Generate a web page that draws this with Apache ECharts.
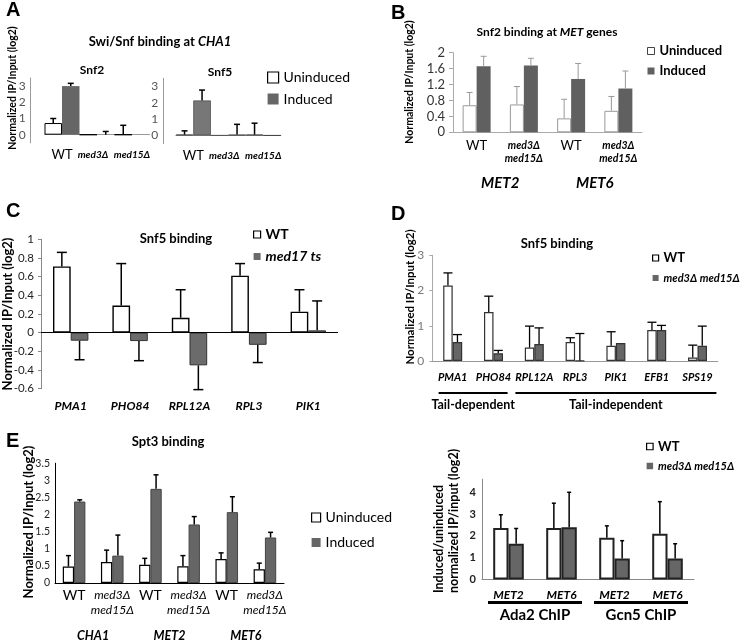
<!DOCTYPE html>
<html><head><meta charset="utf-8">
<script src="https://cdn.jsdelivr.net/npm/echarts@6/dist/echarts.min.js"></script>
<style>html,body{margin:0;padding:0;background:#fff}#c{width:745px;height:642px}</style>
</head><body><div id="c"></div>
<script>
const FONT = 'Lato, "Open Sans", sans-serif';
const GRAY = '#666666';

// ---------- Panel A : Swi/Snf binding at CHA1 ----------
const aStrains = ['WT', 'med3Δ', 'med15Δ'];
const aYTicks = [0, 1, 2, 3];
const aSnf2Un = [0.72, 0, 0];
const aSnf2UnErr = [1.0, null, 0.58];
const aSnf2In = [3.0, 0, 0];
const aSnf2InErr = [3.17, 0.2, null];
const aSnf5Un = [0.05, 0, 0.05];
const aSnf5UnErr = [0.28, null, 0.75];
const aSnf5In = [2.14, 0.05, 0];
const aSnf5InErr = [2.78, 0.68, null];

// ---------- Panel B : Snf2 binding at MET genes ----------
const bStrains = ['WT', 'med3Δ med15Δ', 'WT', 'med3Δ med15Δ'];
const bGenes = ['MET2', 'MET6'];
const bUn = [0.68, 0.70, 0.35, 0.54];
const bUnErr = [1.0, 1.15, 0.83, 0.90];
const bIn = [1.66, 1.68, 1.34, 1.10];
const bInErr = [1.91, 1.86, 1.73, 1.54];

// ---------- Panel C : Snf5 binding, med17 ts ----------
const cGenes = ['PMA1', 'PHO84', 'RPL12A', 'RPL3', 'PIK1'];
const cWT = [0.71, 0.29, 0.16, 0.61, 0.225];
const cWTErr = [0.86, 0.74, 0.46, 0.74, 0.46];
const cMed = [-0.086, -0.09, -0.35, -0.13, 0.025];
const cMedErr = [-0.29, -0.30, -0.61, -0.32, 0.34];

// ---------- Panel D : Snf5 binding, med3Δ med15Δ ----------
const dGenes = ['PMA1', 'PHO84', 'RPL12A', 'RPL3', 'PIK1', 'EFB1', 'SPS19'];
const dGroups = ['Tail-dependent', 'Tail-independent'];
const dWT = [2.14, 1.39, 0.38, 0.54, 0.43, 0.88, 0.10];
const dWTErr = [2.50, 1.84, 0.99, 0.66, 0.83, 1.10, 0.45];
const dMed = [0.54, 0.22, 0.48, 0.01, 0.51, 0.88, 0.43];
const dMedErr = [0.75, 0.30, 0.94, 0.78, null, 1.01, 0.99];

// ---------- Panel E : Spt3 binding ----------
const eStrains = ['WT', 'med3Δ med15Δ', 'WT', 'med3Δ med15Δ', 'WT', 'med3Δ med15Δ'];
const eGenes = ['CHA1', 'MET2', 'MET6'];
const eUn = [0.48, 0.61, 0.53, 0.49, 0.70, 0.40];
const eUnErr = [0.80, 0.96, 0.72, 0.80, 0.88, 0.58];
const eIn = [2.38, 0.80, 2.75, 1.71, 2.07, 1.33];
const eInErr = [2.43, 1.40, 3.16, 1.94, 2.52, 1.48];

// ---------- Panel F : Ada2 / Gcn5 ChIP ----------
const fGenes = ['MET2', 'MET6', 'MET2', 'MET6'];
const fGroups = ['Ada2 ChIP', 'Gcn5 ChIP'];
const fWT = [2.36, 2.36, 1.92, 2.10];
const fWTErr = [2.97, 3.50, 2.46, 3.57];
const fMed = [1.64, 2.40, 0.96, 0.96];
const fMedErr = [2.34, 4.0, 1.78, 1.64];

// ---------- helpers ----------
function uniq(arr) { return arr.map((s, i) => i + '|' + s); }
function lab(v) { return String(v).split('|')[1]; }

function bars(name, data, xi, yi, bw, itemStyle, extra) {
  return Object.assign({
    type: 'bar', name, data, xAxisIndex: xi, yAxisIndex: yi,
    barWidth: bw, barGap: '0%', itemStyle, silent: true, z: 2
  }, extra || {});
}
function errs(vals, es, xi, yi, dx, cap, color, lw) {
  const data = [];
  vals.forEach((v, i) => { if (es[i] != null) data.push([i, v, es[i]]); });
  return {
    type: 'custom', name: 'err', xAxisIndex: xi, yAxisIndex: yi, data,
    encode: { x: 0, y: [1, 2] }, silent: true, z: 3,
    renderItem(params, api) {
      const c = api.coord([api.value(0), api.value(1)]);
      const e = api.coord([api.value(0), api.value(2)]);
      const x = c[0] + dx;
      const st = { stroke: color, lineWidth: lw };
      return { type: 'group', children: [
        { type: 'line', shape: { x1: x, y1: c[1], x2: x, y2: e[1] }, style: st },
        { type: 'line', shape: { x1: x - cap, y1: e[1], x2: x + cap, y2: e[1] }, style: st }
      ] };
    }
  };
}
function txt(text, x, y, font, opts) {
  return Object.assign({
    type: 'text', x, y, silent: true,
    style: Object.assign({ text, font, fill: '#000', align: 'center', verticalAlign: 'middle' }, (opts && opts.style) || {})
  }, (opts && opts.el) || {});
}
const noSplit = { show: false };

const grids = [
  { left: 44.5, top: 78, width: 105, height: 64.8 },      // 0 A Snf2
  { left: 175.8, top: 78.3, width: 105, height: 65.3 },   // 1 A Snf5
  { left: 453, top: 52.7, width: 189, height: 79.6 },     // 2 B
  { left: 41, top: 239.3, width: 297, height: 149.4 },    // 3 C
  { left: 432.3, top: 255.3, width: 285.6, height: 105.7 },// 4 D
  { left: 55, top: 463.2, width: 229, height: 121.1 },    // 5 E
  { left: 482, top: 479.2, width: 212, height: 100.3 }    // 6 F
];

const aLabel = {
  margin: 5, interval: 0,
  formatter: v => v === 'WT' ? '{wt|WT}' : (v === 'med3Δ' ? '{m3|' + v + '}' : '{m|' + v + '}'),
  rich: {
    wt: { fontFamily: FONT, fontSize: 13, color: '#000', lineHeight: 14 },
    m3: { fontFamily: FONT, fontSize: 10, fontStyle: 'italic', fontWeight: 'bold', color: '#000', lineHeight: 14, padding: [0, 8, 0, 0] },
    m: { fontFamily: FONT, fontSize: 10, fontStyle: 'italic', fontWeight: 'bold', color: '#000', lineHeight: 14 }
  }
};

const xAxes = [
  // 0 A Snf2
  { type: 'category', gridIndex: 0, data: aStrains, axisLine: { lineStyle: { color: '#999' } }, axisTick: { show: false }, axisLabel: aLabel },
  // 1 A Snf5
  { type: 'category', gridIndex: 1, data: aStrains, axisLine: { lineStyle: { color: '#999' } }, axisTick: { show: false }, axisLabel: aLabel },
  // 2 B strains
  { type: 'category', gridIndex: 2, data: uniq(bStrains), axisLine: { lineStyle: { color: '#aaa' } }, axisTick: { show: false },
    axisLabel: { margin: 7, interval: 0,
      formatter: v => lab(v) === 'WT' ? '{wt|WT}' : '{m|med3Δ}\n{m|med15Δ}',
      rich: { wt: { fontFamily: FONT, fontSize: 13, color: '#000', lineHeight: 13 },
              m: { fontFamily: FONT, fontSize: 10.5, fontStyle: 'italic', fontWeight: 'bold', color: '#000', lineHeight: 13 } } } },
  // 3 B genes
  { type: 'category', gridIndex: 2, data: bGenes, position: 'bottom', offset: 35,
    axisLine: { show: false, onZero: false }, axisTick: { show: false },
    axisLabel: { interval: 0, fontFamily: FONT, fontSize: 15, fontWeight: 'bold', fontStyle: 'italic', color: '#000' } },
  // 4 C genes
  { type: 'category', gridIndex: 3, data: cGenes, axisLine: { show: false, onZero: false }, axisTick: { show: false },
    axisLabel: { margin: 11, interval: 0, fontFamily: FONT, fontSize: 12, fontWeight: 'bold', fontStyle: 'italic', color: '#000' } },
  // 5 D genes
  { type: 'category', gridIndex: 4, data: dGenes, axisLine: { lineStyle: { color: '#999' } }, axisTick: { show: false },
    axisLabel: { margin: 11, interval: 0, fontFamily: FONT, fontSize: 11, fontWeight: 'bold', fontStyle: 'italic', color: '#000' } },
  // 6 D group underline axis (category-unit scale)
  { type: 'value', gridIndex: 4, min: 0, max: dGenes.length, interval: 0.5, position: 'bottom',
    axisLine: { show: false, onZero: false }, axisTick: { show: false }, splitLine: noSplit,
    axisLabel: { margin: 31, showMinLabel: true, showMaxLabel: true,
      formatter: v => v === 1 ? '{u1|}\n{t|' + dGroups[0] + '}' : (v === 4.5 ? '{u2|}\n{t|' + dGroups[1] + '}' : ''),
      rich: { u1: { width: 69, height: 2, lineHeight: 2, backgroundColor: '#000' },
              u2: { width: 201, height: 2, lineHeight: 2, backgroundColor: '#000' },
              t: { fontFamily: FONT, fontSize: 12.5, fontWeight: 'bold', color: '#000', lineHeight: 16, padding: [6, 0, 0, 0] } } } },
  // 7 E strains
  { type: 'category', gridIndex: 5, data: uniq(eStrains), axisLine: { lineStyle: { color: '#000' } }, axisTick: { show: false },
    axisLabel: { margin: 5, interval: 0,
      formatter: v => lab(v) === 'WT' ? '{wt|WT}' : '{m|med3Δ}\n{m|med15Δ}',
      rich: { wt: { fontFamily: FONT, fontSize: 14, color: '#000', lineHeight: 15 },
              m: { fontFamily: FONT, fontSize: 12, fontStyle: 'italic', color: '#000', lineHeight: 15 } } } },
  // 8 E genes
  { type: 'category', gridIndex: 5, data: eGenes, position: 'bottom', offset: 38,
    axisLine: { show: false, onZero: false }, axisTick: { show: false },
    axisLabel: { interval: 0, fontFamily: FONT, fontSize: 12.5, fontWeight: 'bold', fontStyle: 'italic', color: '#000' } },
  // 9 F genes
  { type: 'category', gridIndex: 6, data: uniq(fGenes), axisLine: { lineStyle: { color: '#888' } }, axisTick: { show: false },
    axisLabel: { margin: 10, interval: 0, formatter: v => lab(v), fontFamily: FONT, fontSize: 12, fontWeight: 'bold', fontStyle: 'italic', color: '#000' } },
  // 10 F groups
  { type: 'category', gridIndex: 6, data: fGroups, position: 'bottom', offset: 13.5,
    axisLine: { show: false, onZero: false }, axisTick: { show: false },
    axisLabel: { interval: 0, margin: 8, formatter: v => '{u|}\n{t|' + v + '}',
      rich: { u: { width: 94, height: 3, lineHeight: 3, backgroundColor: '#000' },
              t: { fontFamily: FONT, fontSize: 15, fontWeight: 'bold', color: '#000', lineHeight: 18, padding: [5, 0, 0, 0] } } } }
];

const yAxes = [
  { type: 'value', gridIndex: 0, min: -0.5, max: 3.5, interval: 0.5, offset: 13.8, splitLine: noSplit,
    axisLine: { show: true, onZero: false, lineStyle: { color: '#999' } }, axisTick: { show: false },
    axisLabel: { margin: 5, fontFamily: FONT, fontSize: 12, color: '#555', formatter: v => aYTicks.includes(v) ? String(v) : '' } },
  { type: 'value', gridIndex: 1, min: -0.5, max: 3.5, interval: 0.5, offset: 12.5, splitLine: noSplit,
    axisLine: { show: true, onZero: false, lineStyle: { color: '#999' } }, axisTick: { show: false },
    axisLabel: { margin: 5, fontFamily: FONT, fontSize: 12, color: '#555', formatter: v => aYTicks.includes(v) ? String(v) : '' } },
  { type: 'value', gridIndex: 2, min: 0, max: 2, interval: 0.4, splitLine: noSplit,
    axisLine: { show: true, lineStyle: { color: '#aaa' } }, axisTick: { show: true, length: 4, lineStyle: { color: '#aaa' } },
    axisLabel: { margin: 8, fontFamily: FONT, fontSize: 13, color: '#333' } },
  { type: 'value', gridIndex: 3, min: -0.6, max: 1, interval: 0.2, splitLine: noSplit,
    axisLine: { show: true, onZero: false, lineStyle: { color: '#888' } }, axisTick: { show: true, length: 3, lineStyle: { color: '#888' } },
    axisLabel: { margin: 7, fontFamily: FONT, fontSize: 11.5, color: '#222' } },
  { type: 'value', gridIndex: 4, min: 0, max: 3, interval: 1, splitLine: noSplit,
    axisLine: { show: true, lineStyle: { color: '#aaa' } }, axisTick: { show: true, length: 3, lineStyle: { color: '#aaa' } },
    axisLabel: { margin: 8, fontFamily: FONT, fontSize: 12, color: '#777' } },
  { type: 'value', gridIndex: 5, min: 0, max: 3.5, interval: 0.5, splitLine: noSplit,
    axisLine: { show: true, lineStyle: { color: '#000' } }, axisTick: { show: false },
    axisLabel: { margin: 5, fontFamily: FONT, fontSize: 10.5, color: '#222' } },
  { type: 'value', gridIndex: 6, min: 0, max: 4.6, interval: 1, splitLine: noSplit,
    axisLine: { show: true, lineStyle: { color: '#888' } }, axisTick: { show: false },
    axisLabel: { margin: 6, showMaxLabel: false, fontFamily: FONT, fontSize: 11, fontWeight: 'bold', color: '#222' } }
];

const sA_U = { color: '#fff', borderColor: '#000', borderWidth: 1 };
const sA_I = { color: GRAY };
const series = [
  // A Snf2
  bars('Uninduced', aSnf2Un, 0, 0, 17.5, sA_U),
  bars('Induced', aSnf2In, 0, 0, 17.5, sA_I),
  errs(aSnf2Un, aSnf2UnErr, 0, 0, -8.75, 3, '#000', 1.5),
  errs(aSnf2In, aSnf2InErr, 0, 0, 8.75, 3, '#000', 1.5),
  // A Snf5
  bars('Uninduced', aSnf5Un, 1, 1, 17.5, { color: '#fff', borderColor: '#555', borderWidth: 1 }),
  bars('Induced', aSnf5In, 1, 1, 17.5, { color: '#777', borderColor: '#333', borderWidth: 0.6 }),
  errs(aSnf5Un, aSnf5UnErr, 1, 1, -8.75, 3, '#000', 1.5),
  errs(aSnf5In, aSnf5InErr, 1, 1, 8.75, 3, '#000', 1.5),
  // B
  bars('Uninduced', bUn, 2, 2, 14, { color: '#fff', borderColor: '#999', borderWidth: 1 }),
  bars('Induced', bIn, 2, 2, 14, { color: '#606060' }),
  errs(bUn, bUnErr, 2, 2, -7, 3, '#999', 1),
  errs(bIn, bInErr, 2, 2, 7, 3, '#999', 1),
  // C
  bars('WT', cWT, 4, 3, 17.7, { color: '#fff', borderColor: '#000', borderWidth: 1.4 }, {
    markLine: { silent: true, symbol: ['none', 'none'], label: { show: false },
      lineStyle: { color: '#000', width: 1, type: 'solid' }, data: [{ yAxis: 0 }] } }),
  bars('med17 ts', cMed, 4, 3, 17.7, { color: '#6b6b6b', borderColor: '#333', borderWidth: 1 }),
  errs(cWT, cWTErr, 4, 3, -8.85, 5, '#000', 1.5),
  errs(cMed, cMedErr, 4, 3, 8.85, 5, '#000', 1.5),
  // D
  bars('WT', dWT, 5, 4, 9.5, { color: '#fff', borderColor: '#333', borderWidth: 1.2 }),
  bars('med3Δ med15Δ', dMed, 5, 4, 9.5, { color: GRAY, borderColor: '#333', borderWidth: 1.2 }),
  errs(dWT, dWTErr, 5, 4, -4.75, 4.5, '#000', 1.3),
  errs(dMed, dMedErr, 5, 4, 4.75, 4.5, '#000', 1.3),
  // E
  bars('Uninduced', eUn, 7, 5, 11.3, { color: '#fff', borderColor: '#000', borderWidth: 1.2 }),
  bars('Induced', eIn, 7, 5, 11.3, { color: GRAY, borderColor: '#444', borderWidth: 1 }),
  errs(eUn, eUnErr, 7, 5, -5.65, 2.5, '#000', 1.5),
  errs(eIn, eInErr, 7, 5, 5.65, 2.5, '#000', 1.5),
  // F
  bars('WT', fWT, 9, 6, 15.3, { color: '#fff', borderColor: '#222', borderWidth: 2 }),
  bars('med3Δ med15Δ', fMed, 9, 6, 15.3, { color: GRAY, borderColor: '#222', borderWidth: 2 }),
  errs(fWT, fWTErr, 9, 6, -7.65, 2, '#000', 1.5),
  errs(fMed, fMedErr, 9, 6, 7.65, 2, '#000', 1.5)
];

function legend(left, top, size, gap, items, textStyle) {
  return { left, top, orient: 'vertical', itemWidth: size, itemHeight: size, itemGap: gap, padding: 0,
    selectedMode: false, textStyle: Object.assign({ fontFamily: FONT, color: '#000' }, textStyle), data: items };
}
const unIcon = (bc, bw) => ({ name: 'Uninduced', icon: 'rect', itemStyle: { color: '#fff', borderColor: bc, borderWidth: bw } });
const inIcon = (c) => ({ name: 'Induced', icon: 'rect', itemStyle: { color: c, borderWidth: 0 } });
const wtIcon = { name: 'WT', icon: 'rect', itemStyle: { color: '#fff', borderColor: '#000', borderWidth: 1.2 } };
const medIcon = { name: 'med3Δ med15Δ', icon: 'rect', itemStyle: { color: GRAY, borderWidth: 0 },
  textStyle: { fontStyle: 'italic', fontSize: 11, fontWeight: 'bold' } };

const legends = [
  legend(267, 70.5, 11, 7.5, [unIcon('#000', 1.2), inIcon(GRAY)], { fontSize: 14 }),
  legend(647, 44.5, 7, 7, [unIcon('#444', 1), inIcon('#606060')], { fontSize: 13, fontWeight: 'bold' }),
  legend(253, 227.5, 7, 8, [wtIcon, { name: 'med17 ts', icon: 'rect', itemStyle: { color: '#6b6b6b', borderWidth: 0 }, textStyle: { fontStyle: 'italic' } }],
    { fontSize: 14, fontWeight: 'bold' }),
  legend(652, 251.5, 6, 8, [wtIcon, medIcon], { fontSize: 13, fontWeight: 'bold' }),
  legend(311, 510.5, 9, 11, [unIcon('#000', 1.2), inIcon(GRAY)], { fontSize: 14 }),
  legend(646, 440, 6.5, 7.5, [wtIcon, medIcon], { fontSize: 13, fontWeight: 'bold' })
];

const letter = 'bold 20px "Liberation Sans", Arial, sans-serif';
const yTitle = 'Normalized IP/Input (log2)';
const rot = { el: { rotation: Math.PI / 2 } };
const graphics = [
  txt('A', 6, 10, letter, { style: { align: 'left' } }),
  txt('B', 391, 13, letter, { style: { align: 'left' } }),
  txt('C', 6, 211, letter, { style: { align: 'left' } }),
  txt('D', 391, 214, letter, { style: { align: 'left' } }),
  txt('E', 6, 441, letter, { style: { align: 'left' } }),
  txt('{b|Swi/Snf binding at }{bi|CHA1}', 160, 42, 'bold 13px ' + FONT, { style: { rich: {
    b: { fontFamily: FONT, fontSize: 13, fontWeight: 'bold' }, bi: { fontFamily: FONT, fontSize: 13, fontWeight: 'bold', fontStyle: 'italic' } } } }),
  txt('Snf2', 92, 70, 'bold 12px ' + FONT),
  txt('Snf5', 220, 72, 'bold 12px ' + FONT),
  txt('{b|Snf2 binding at }{bi|MET}{b| genes}', 547, 32, 'bold 12px ' + FONT, { style: { rich: {
    b: { fontFamily: FONT, fontSize: 12, fontWeight: 'bold' }, bi: { fontFamily: FONT, fontSize: 12, fontWeight: 'bold', fontStyle: 'italic' } } } }),
  txt('Snf5 binding', 176, 239, 'bold 13px ' + FONT),
  txt('Snf5 binding', 557, 244, 'bold 13px ' + FONT),
  txt('Spt3 binding', 168, 442, 'bold 13px ' + FONT),
  txt(yTitle, 13, 88, 'bold 10.5px ' + FONT, rot),
  txt(yTitle, 410, 82, 'bold 10.5px ' + FONT, rot),
  txt(yTitle, 7.5, 314, 'bold 13px ' + FONT, rot),
  txt(yTitle, 410, 297, 'bold 11.5px ' + FONT, rot),
  txt(yTitle, 29, 522, 'bold 13px ' + FONT, rot),
  txt('Induced/uninduced', 439, 539, 'bold 12.5px ' + FONT, rot),
  txt('normalized IP/input (log2)', 454, 521, 'bold 12.5px ' + FONT, rot)
];

const chart = echarts.init(document.getElementById('c'), null, { renderer: 'canvas' });
chart.setOption({
  animation: false,
  backgroundColor: '#fff',
  grid: grids,
  xAxis: xAxes,
  yAxis: yAxes,
  legend: legends,
  series,
  graphic: { elements: graphics }
});
</script></body></html>
